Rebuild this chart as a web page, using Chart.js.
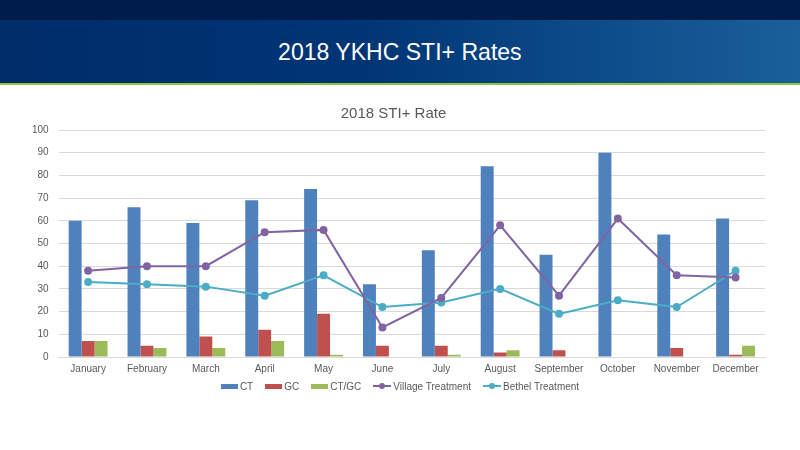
<!DOCTYPE html>
<html>
<head>
<meta charset="utf-8">
<script src="https://cdn.jsdelivr.net/npm/chart.js@4"></script>
<style>
  html, body { margin: 0; padding: 0; background: #ffffff; }
  body { width: 800px; height: 450px; position: relative; overflow: hidden; font-family: "Liberation Sans", Arial, sans-serif; }
  #topbar { position: absolute; left: 0; top: 0; width: 800px; height: 20px; background: #001c4a; }
  #band { position: absolute; left: 0; top: 20px; width: 800px; height: 63px;
          background: linear-gradient(90deg, #002c69 0%, #003575 45%, #0d4c8a 75%, #1a5f9a 100%); }
  #greenline { position: absolute; left: 0; top: 83px; width: 800px; height: 2px; background: #8cc63e; }
  #header-title { position: absolute; left: 0; top: 20px; width: 800px; height: 63px; line-height: 63px;
          text-align: center; color: #ffffff; font-family: "Liberation Sans", Arial, sans-serif; font-size: 24px; }
  #header-title span { display: inline-block; transform: scaleX(0.96); transform-origin: center; }
  #wrap { position: absolute; left: 0; top: 95px; width: 800px; height: 286px; }
  #legend { position: absolute; left: 0; top: 379px; width: 800px; height: 14px; display: flex; justify-content: center; align-items: center;
            font-family: "Liberation Sans", Arial, sans-serif; font-size: 10px; color: #595959; }
  .item { display: flex; align-items: center; margin: 0 6px; }
  .item canvas { margin-right: 2px; }
</style>
</head>
<body>
<div id="topbar"></div>
<div id="band"></div>
<div id="greenline"></div>
<div id="header-title"><span>2018 YKHC STI+ Rates</span></div>
<div id="wrap"><canvas id="c"></canvas></div>
<div id="legend"></div>
<script>
const months = ["January","February","March","April","May","June","July","August","September","October","November","December"];
const ct = [60, 66, 59, 69, 74, 32, 47, 84, 45, 90, 54, 61];
const gc = [7, 5, 9, 12, 19, 5, 5, 2, 3, 0, 4, 1];
const ctgc = [7, 4, 4, 7, 1, 0, 1, 3, 0, 0, 0, 5];
const village = [38, 40, 40, 55, 56, 13, 26, 58, 27, 61, 36, 35];
const bethel = [33, 32, 31, 27, 36, 22, 24, 30, 19, 25, 22, 38];
const yTicks = [0, 10, 20, 30, 40, 50, 60, 70, 80, 90, 100];

const colors = { ct: "#4f81bd", gc: "#c0504d", ctgc: "#9bbb59", village: "#8064a2", bethel: "#4bacc6" };

function boxIcon(color) {
  const c = document.createElement("canvas");
  c.width = 17; c.height = 8;
  const g = c.getContext("2d");
  g.fillStyle = color; g.fillRect(0, 2, 17, 5);
  return c;
}
function lineIcon(color) {
  const c = document.createElement("canvas");
  c.width = 18; c.height = 8;
  const g = c.getContext("2d");
  g.strokeStyle = color; g.lineWidth = 2;
  g.beginPath(); g.moveTo(0, 4); g.lineTo(18, 4); g.stroke();
  g.fillStyle = color; g.beginPath(); g.arc(9, 4, 3, 0, Math.PI * 2); g.fill();
  return c;
}

const lineDs = (label, data, color) => ({
  type: "line", label, data, borderColor: color, backgroundColor: color,
  borderWidth: 2, pointRadius: 3, pointHoverRadius: 3, pointBackgroundColor: color, pointBorderColor: color,
  tension: 0, order: 0
});
const barDs = (label, data, color) => ({
  type: "bar", label, data, backgroundColor: color, borderWidth: 0, order: 1,
  categoryPercentage: 0.66, barPercentage: 1.0
});

const chart = new Chart(document.getElementById("c"), {
  data: {
    labels: months,
    datasets: [
      barDs("CT", ct, colors.ct),
      barDs("GC", gc, colors.gc),
      barDs("CT/GC", ctgc, colors.ctgc),
      lineDs("Village Treatment", village, colors.village),
      lineDs("Bethel Treatment", bethel, colors.bethel)
    ]
  },
  options: {
    responsive: true, maintainAspectRatio: false, animation: false,
    layout: { padding: { left: 22, right: 35, top: 10, bottom: 0 } },
    plugins: {
      title: { display: true, text: "2018 STI+ Rate", color: "#595959",
               font: { family: "Liberation Sans", size: 15, weight: "normal" }, padding: { top: 0, bottom: 7 } },
      legend: { display: false },
      tooltip: { enabled: false }
    },
    scales: {
      x: {
        grid: { display: false, drawTicks: false }, border: { display: true, color: "#d9d9d9" },
        ticks: { color: "#595959", font: { family: "Liberation Sans", size: 10 }, maxRotation: 0, autoSkip: false, padding: 6 }
      },
      y: {
        min: 0, max: 100,
        afterBuildTicks: (axis) => { axis.ticks = yTicks.map(v => ({ value: v })); },
        grid: { color: "#d9d9d9", drawTicks: false }, border: { display: false },
        ticks: { color: "#595959", font: { family: "Liberation Sans", size: 10 }, padding: 10 }
      }
    }
  }
});

// HTML legend built from the chart's datasets
const legend = document.getElementById("legend");
chart.data.datasets.forEach((ds) => {
  const item = document.createElement("div");
  item.className = "item";
  item.appendChild(ds.type === "line" ? lineIcon(ds.borderColor) : boxIcon(ds.backgroundColor));
  const t = document.createElement("span");
  t.textContent = ds.label;
  item.appendChild(t);
  legend.appendChild(item);
});
</script>
</body>
</html>
